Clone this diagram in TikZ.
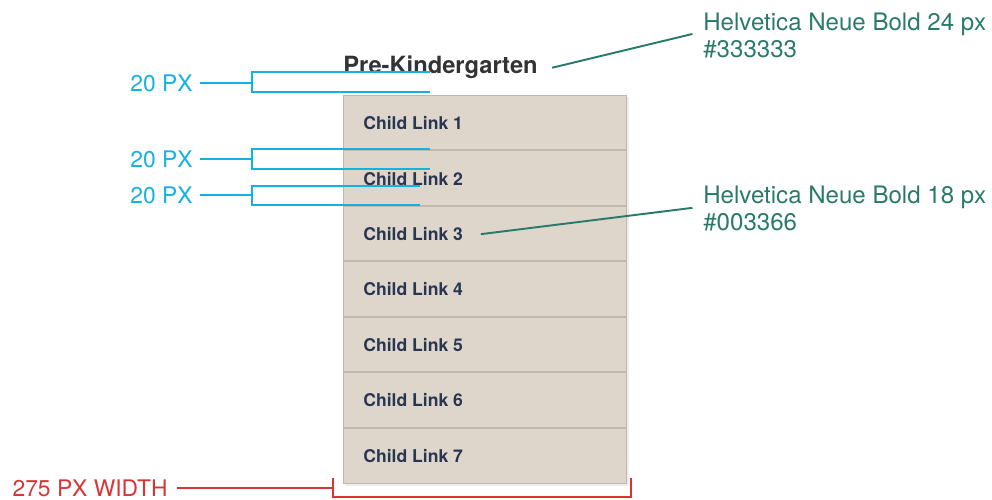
\documentclass[tikz,border=0pt]{standalone}
\usepackage{fontspec}
\setmainfont{TeX Gyre Heros}

\definecolor{massblau}{RGB}{22,176,228}
\definecolor{hinweisgruen}{RGB}{42,122,108}
\definecolor{breitenrot}{RGB}{218,52,52}
\definecolor{titelgrau}{HTML}{333333}
\definecolor{linkblau}{RGB}{40,54,82}
\definecolor{feldbeige}{RGB}{222,214,203}
\definecolor{randgrau}{RGB}{192,184,174}

\tikzset{
	mass/.style={massblau, line width=1.1pt},
	massbeschr/.style={massblau, inner sep=0pt, anchor=east, font=\fontsize{13}{15}\selectfont},
	hinweis/.style={hinweisgruen, line width=1.1pt},
	hinweisbeschr/.style={hinweisgruen, inner sep=0pt, anchor=base west, font=\fontsize{13.7}{16}\selectfont},
	breite/.style={breitenrot, line width=1.1pt},
	linktext/.style={linkblau, inner sep=0pt, anchor=base west, font=\fontsize{10}{12}\selectfont\bfseries}
}

\begin{document}
\begin{tikzpicture}[x=0.02cm,y=-0.02cm]
	\useasboundingbox (0,0) rectangle (992,500);
	
	
	% Rahmen des Menues
	\fill[black!7] (345,97) rectangle (629,486);
	\draw[randgrau, fill=feldbeige] (343,95) rectangle (626,483);
	
	% Trennlinien zwischen den Links
	\draw[randgrau, line width=1.2pt] (343,150.4) -- (626,150.4);
	\draw[randgrau, line width=1.2pt] (343,205.9) -- (626,205.9);
	\draw[randgrau, line width=1.2pt] (343,261.3) -- (626,261.3);
	\draw[randgrau, line width=1.2pt] (343,316.7) -- (626,316.7);
	\draw[randgrau, line width=1.2pt] (343,372.1) -- (626,372.1);
	\draw[randgrau, line width=1.2pt] (343,427.6) -- (626,427.6);
	
	% Ueberschrift
	\node[titelgrau, inner sep=0pt, anchor=base west, font=\fontsize{13.5}{16}\selectfont\bfseries] (titel) at (343,74) {Pre-Kindergarten};
	
	% Links beschriften
	\node[linktext] (link1) at (363,129.7) {Child Link 1};
	\node[linktext] (link2) at (363,185.1) {Child Link 2};
	\node[linktext] (link3) at (363,240.6) {Child Link 3};
	\node[linktext] (link4) at (363,296.0) {Child Link 4};
	\node[linktext] (link5) at (363,351.4) {Child Link 5};
	\node[linktext] (link6) at (363,406.9) {Child Link 6};
	\node[linktext] (link7) at (363,462.3) {Child Link 7};
	
	% Abstaende (blau)
	\node[massbeschr] (abstand1) at (193,83) {20 PX};
	\node[massbeschr] (abstand2) at (193,159) {20 PX};
	\node[massbeschr] (abstand3) at (193,195) {20 PX};
	
	\draw[mass] ([xshift=4pt]abstand1.east) -- (252,83);
	\draw[mass] (430,72) -| (252,92) -- (430,92);
	\draw[mass] ([xshift=4pt]abstand2.east) -- (252,159);
	\draw[mass] (430,149) -| (252,169) -- (430,169);
	\draw[mass] ([xshift=4pt]abstand3.east) -- (252,195);
	\draw[mass] (420,186) -| (252,205) -- (420,205);
	
	% Schrift-Hinweise (gruen)
	\node[hinweisbeschr] (schrift24) at (703,31) {Helvetica Neue Bold 24 px};
	\node[hinweisbeschr] (farbe24) at (703,58) {\#333333};
	\node[hinweisbeschr] (schrift18) at (703,204) {Helvetica Neue Bold 18 px};
	\node[hinweisbeschr] (farbe18) at (703,231) {\#003366};
	
	\draw[hinweis] ([xshift=8pt]titel.east) -- ([xshift=-6pt,yshift=1.5pt]schrift24.south west);
	\draw[hinweis] ([xshift=10pt]link3.east) -- ([xshift=-6pt,yshift=1pt]schrift18.south west);
	
	% Gesamtbreite (rot)
	\node[breitenrot, inner sep=0pt, anchor=east, font=\fontsize{13}{15}\selectfont] (gesamtbreite) at (168,488) {275 PX WIDTH};
	\draw[breite] ([xshift=5pt]gesamtbreite.east) -- (333,488);
	\draw[breite] (333,478) -- (333,497) -- (631,497) -- (631,478);
	
	
\end{tikzpicture}
\end{document}
